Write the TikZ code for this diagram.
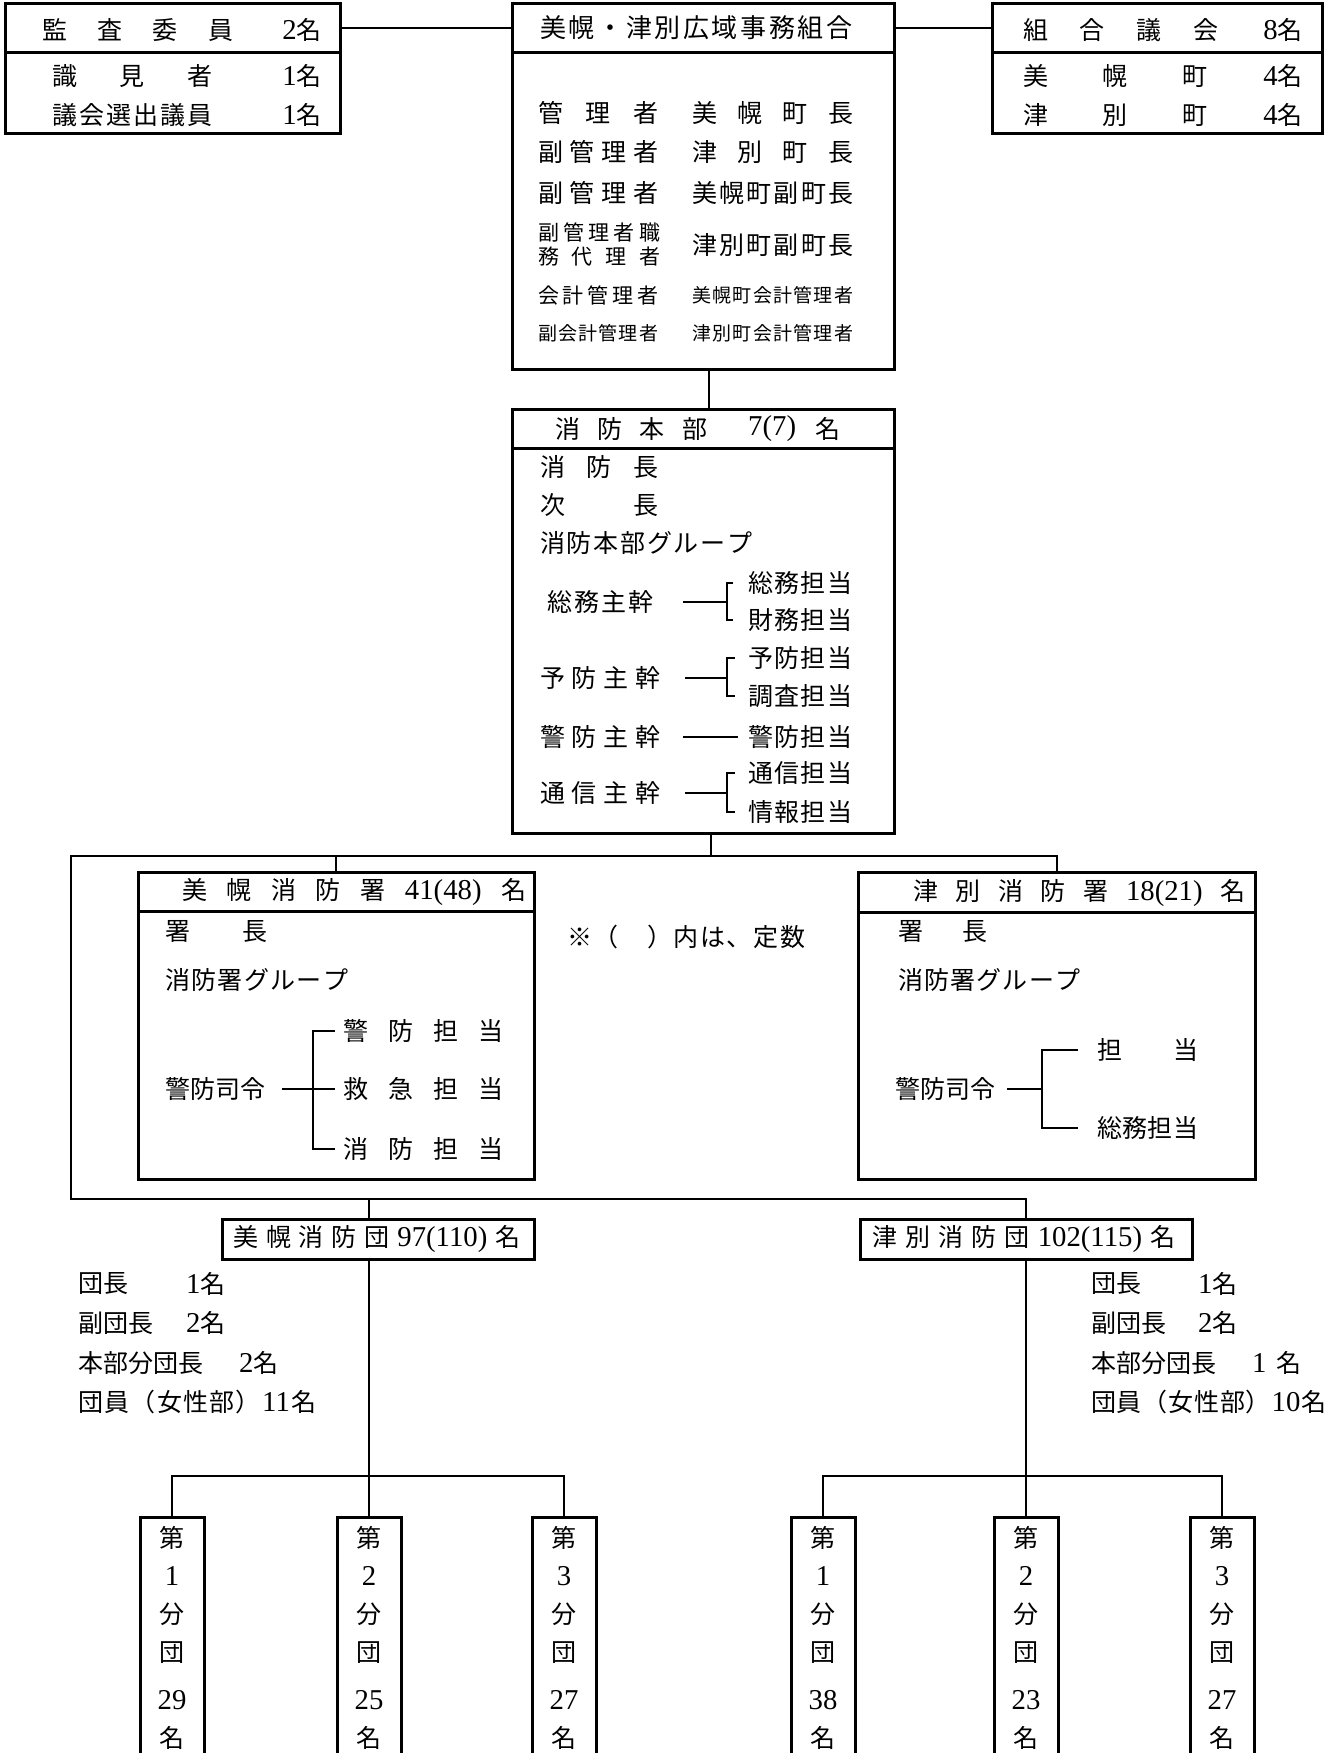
\documentclass[tikz,border=0pt]{standalone}
\usepackage{fontspec}
\setmainfont{Noto Sans CJK JP}
\newfontfamily\sr[Scale=1.15]{Liberation Serif}
\usetikzlibrary{fit}
\newcommand\fs[1]{\fontsize{#1}{#1}\selectfont}
\newcommand\sprd[2]{\hbox to #1pt{\sprdA#2\relax}}
\def\sprdA#1{#1\sprdB}
\def\sprdrelax{\relax}
\def\sprdB#1{\def\sprdtmp{#1}\ifx\sprdtmp\sprdrelax\else\hfil#1\expandafter\sprdB\fi}
\begin{document}
\begin{tikzpicture}[x=1pt,y=-1pt,
  bx/.style={draw,line width=3pt,inner sep=0pt},
  ln/.style={line width=2pt},
  tx/.style={inner sep=0pt,font=\fs{25},anchor=west},
  colt/.style={inner sep=0pt,font=\fontsize{25}{38}\selectfont,align=center,anchor=north}]
\useasboundingbox (0,0) rectangle (1338,1753);
\fill[white] (0,0) rectangle (1338,1753);
\clip (0,0) rectangle (1338,1753);

% ---------- boxes ----------
\node[bx,fit={(5,4) (340,53)}] (lhead) {};
\node[bx,fit={(5,53) (340,133)}] (lbody) {};
\node[bx,fit={(512,4) (894,53)}] (chead) {};
\node[bx,fit={(512,53) (894,369)}] (cbody) {};
\node[bx,fit={(992,4) (1322,53)}] (rhead) {};
\node[bx,fit={(992,53) (1322,133)}] (rbody) {};
\node[bx,fit={(512,409) (894,448)}] (hqhead) {};
\node[bx,fit={(512,448) (894,833)}] (hqbody) {};
\node[bx,fit={(138,872) (534,911)}] (bhead) {};
\node[bx,fit={(138,911) (534,1179)}] (bbody) {};
\node[bx,fit={(858,872) (1255,912)}] (thead) {};
\node[bx,fit={(858,912) (1255,1179)}] (tbody) {};
\node[bx,fit={(222,1219) (534,1259)}] (bcorps) {};
\node[bx,fit={(860,1219) (1192,1259)}] (tcorps) {};
\node[bx,fit={(140,1517) (204,1775)}] (b1) {};
\node[bx,fit={(337,1517) (401,1775)}] (b2) {};
\node[bx,fit={(532,1517) (596,1775)}] (b3) {};
\node[bx,fit={(791,1517) (855,1775)}] (t1) {};
\node[bx,fit={(994,1517) (1058,1775)}] (t2) {};
\node[bx,fit={(1190,1517) (1254,1775)}] (t3) {};

% ---------- left box ----------
\node[tx] (l1) at (42,30) {\sprd{191}{監査委員}};
\node[tx,anchor=east] (l1n) at (322,30) {{\sr 2}名};
\node[tx] (l2) at (52,76) {\sprd{160}{識見者}};
\node[tx,anchor=east] (l2n) at (322,76) {{\sr 1}名};
\node[tx] (l3) at (52,115) {\sprd{160}{議会選出議員}};
\node[tx,anchor=east] (l3n) at (322,115) {{\sr 1}名};

% ---------- center box ----------
\node[tx,font=\fs{26}] (ctitle) at (540,28) {\sprd{312}{美幌・津別広域事務組合}};
\node[tx] (c1a) at (538,113) {\sprd{120}{管理者}};
\node[tx] (c1b) at (692,113) {\sprd{161}{美幌町長}};
\node[tx] (c2a) at (538,152) {\sprd{120}{副管理者}};
\node[tx] (c2b) at (692,152) {\sprd{161}{津別町長}};
\node[tx] (c3a) at (538,193) {\sprd{120}{副管理者}};
\node[tx] (c3b) at (692,193) {\sprd{161}{美幌町副町長}};
\node[tx,font=\fs{21}] (c4a) at (538,232) {\sprd{122}{副管理者職}};
\node[tx,font=\fs{21}] (c4c) at (538,257) {\sprd{122}{務代理者}};
\node[tx] (c4b) at (692,245) {\sprd{161}{津別町副町長}};
\node[tx,font=\fs{21}] (c5a) at (538,295) {\sprd{120}{会計管理者}};
\node[tx,font=\fs{19}] (c5b) at (692,295) {\sprd{161}{美幌町会計管理者}};
\node[tx,font=\fs{19}] (c6a) at (538,333) {\sprd{120}{副会計管理者}};
\node[tx,font=\fs{19}] (c6b) at (692,333) {\sprd{161}{津別町会計管理者}};

% ---------- right box ----------
\node[tx] (r1) at (1023,30) {\sprd{195}{組合議会}};
\node[tx,anchor=east] (r1n) at (1303,30) {{\sr 8}名};
\node[tx] (r2) at (1023,76) {\sprd{184}{美幌町}};
\node[tx,anchor=east] (r2n) at (1303,76) {{\sr 4}名};
\node[tx] (r3) at (1023,115) {\sprd{184}{津別町}};
\node[tx,anchor=east] (r3n) at (1303,115) {{\sr 4}名};

% ---------- HQ ----------
\node[tx] (h0a) at (555,429) {\sprd{152}{消防本部}};
\node[tx] (h0b) at (748,429) {\sr 7(7)};
\node[tx] (h0c) at (815,429) {名};
\node[tx] (h1) at (540,467) {\sprd{118}{消防長}};
\node[tx] (h2) at (540,505) {\sprd{118}{次長}};
\node[tx] (h3) at (540,543) {\sprd{212}{消防本部グループ}};
\node[tx] (k1) at (547,602) {\sprd{106}{総務主幹}};
\node[tx] (k1a) at (748,583) {\sprd{104}{総務担当}};
\node[tx] (k1b) at (748,620) {\sprd{104}{財務担当}};
\node[tx] (k2) at (540,678) {\sprd{120}{予防主幹}};
\node[tx] (k2a) at (748,658) {\sprd{104}{予防担当}};
\node[tx] (k2b) at (748,696) {\sprd{104}{調査担当}};
\node[tx] (k3) at (540,737) {\sprd{120}{警防主幹}};
\node[tx] (k3a) at (748,737) {\sprd{104}{警防担当}};
\node[tx] (k4) at (540,793) {\sprd{120}{通信主幹}};
\node[tx] (k4a) at (748,773) {\sprd{104}{通信担当}};
\node[tx] (k4b) at (748,812) {\sprd{104}{情報担当}};

\draw[ln] ([xshift=30pt]k1.east) -- ([xshift=-21pt]k1a.west |- k1.east);
\draw[ln] ([xshift=-15pt]k1a.west) -- ([xshift=-21pt]k1a.west) -- ([xshift=-21pt]k1b.west) -- ([xshift=-15pt]k1b.west);
\draw[ln] ([xshift=25pt]k2.east) -- ([xshift=-21pt]k2a.west |- k2.east);
\draw[ln] ([xshift=-13pt]k2a.west) -- ([xshift=-21pt]k2a.west) -- ([xshift=-21pt]k2b.west) -- ([xshift=-13pt]k2b.west);
\draw[ln] ([xshift=23pt]k3.east) -- ([xshift=-10pt]k3a.west);
\draw[ln] ([xshift=25pt]k4.east) -- ([xshift=-21pt]k4a.west |- k4.east);
\draw[ln] ([xshift=-13pt]k4a.west) -- ([xshift=-21pt]k4a.west) -- ([xshift=-21pt]k4b.west) -- ([xshift=-13pt]k4b.west);

% ---------- Bihoro station ----------
\node[tx] (bs0) at (182,892) {\sprd{344}{美幌消防署{{\sr 41(48)}}名}};
\node[tx] (bs1) at (165,932) {\sprd{102}{署長}};
\node[tx] (bs2) at (165,980) {\sprd{183}{消防署グループ}};
\node[tx] (bk) at (165,1089) {\sprd{100}{警防司令}};
\node[tx] (ba) at (343,1031) {\sprd{160}{警防担当}};
\node[tx] (bb) at (343,1089) {\sprd{160}{救急担当}};
\node[tx] (bc) at (343,1149) {\sprd{160}{消防担当}};
\draw[ln] ([xshift=17pt]bk.east) -- ([xshift=-8pt]bb.west);
\draw[ln] ([xshift=-8pt]ba.west) -- ([xshift=-30pt]ba.west) -- ([xshift=-30pt]bc.west) -- ([xshift=-8pt]bc.west);

% ---------- Tsubetsu station ----------
\node[tx] (ts0) at (913,893) {\sprd{332}{津別消防署{{\sr 18(21)}}名}};
\node[tx] (ts1) at (898,932) {\sprd{89}{署長}};
\node[tx] (ts2) at (898,980) {\sprd{182}{消防署グループ}};
\node[tx] (tk) at (895,1089) {\sprd{97}{警防司令}};
\node[tx] (ta) at (1097,1050) {\sprd{101}{担当}};
\node[tx] (tb) at (1097,1128) {\sprd{101}{総務担当}};
\draw[ln] ([xshift=15pt]tk.east) -- ([xshift=-55pt]ta.west |- tk.east);
\draw[ln] ([xshift=-19pt]ta.west) -- ([xshift=-55pt]ta.west) -- ([xshift=-55pt]tb.west) -- ([xshift=-19pt]tb.west);

% ---------- note ----------
\node[tx] (note) at (567,937) {\sprd{238}{※（　）内は、定数}};

% ---------- corps ----------
\node[tx] (bct) at (233,1239) {\sprd{287}{美幌消防団{{\sr 97(110)}}名}};
\node[tx] (tct) at (872,1239) {\sprd{303}{津別消防団{{\sr 102(115)}}名}};

\node[tx] (lm1) at (78,1284) {団長};
\node[tx] (lm1n) at (186,1284) {{\sr 1}名};
\node[tx] (lm2) at (78,1323) {副団長};
\node[tx] (lm2n) at (186,1323) {{\sr 2}名};
\node[tx] (lm3) at (78,1363) {本部分団長};
\node[tx] (lm3n) at (239,1363) {{\sr 2}名};
\node[tx] (lm4) at (78,1402) {\sprd{238}{団員（女性部）{{\sr 11}}名}};

\node[tx] (rm1) at (1091,1284) {団長};
\node[tx] (rm1n) at (1198,1284) {{\sr 1}名};
\node[tx] (rm2) at (1091,1323) {副団長};
\node[tx] (rm2n) at (1198,1323) {{\sr 2}名};
\node[tx] (rm3) at (1091,1363) {本部分団長};
\node[tx] (rm3n) at (1252,1363) {{\sr 1}\hspace{10pt}名};
\node[tx] (rm4) at (1091,1402) {\sprd{235}{団員（女性部）{{\sr 10}}名}};

% ---------- bunsho boxes ----------
\node[colt] (b1t) at (b1.north |- 0,1526) {第\\{\sr 1}\\分\\団\\[10pt]{\sr 29}\\名};
\node[colt] (b2t) at (b2.north |- 0,1526) {第\\{\sr 2}\\分\\団\\[10pt]{\sr 25}\\名};
\node[colt] (b3t) at (b3.north |- 0,1526) {第\\{\sr 3}\\分\\団\\[10pt]{\sr 27}\\名};
\node[colt] (t1t) at (t1.north |- 0,1526) {第\\{\sr 1}\\分\\団\\[10pt]{\sr 38}\\名};
\node[colt] (t2t) at (t2.north |- 0,1526) {第\\{\sr 2}\\分\\団\\[10pt]{\sr 23}\\名};
\node[colt] (t3t) at (t3.north |- 0,1526) {第\\{\sr 3}\\分\\団\\[10pt]{\sr 27}\\名};

% ---------- connectors ----------
\coordinate (tl) at (71,856);
\coordinate (bl) at (71,1199);
\coordinate (bj) at (369,1476);
\coordinate (tj) at (1026,1476);
\draw[ln] (lhead.east |- ctitle) -- (chead.west |- ctitle);
\draw[ln] (chead.east |- ctitle) -- (rhead.west |- ctitle);
\draw[ln] ([xshift=6pt]cbody.south) -- ([xshift=6pt]hqhead.north);
\draw[ln] ([xshift=8pt]hqbody.south) -- ([xshift=8pt]hqbody.south |- tl);
\draw[ln] (thead.north) -- (thead.north |- tl) -- (tl) -- (bl) -- (tcorps.north |- bl) -- (tcorps.north);
\draw[ln] (bhead.north) -- (bhead.north |- tl);
\draw[ln] ([xshift=-9pt]bcorps.north) -- ([xshift=-9pt]bcorps.north |- bl);
\draw[ln] ([xshift=-9pt]bcorps.south) -- (b2.north);
\draw[ln] (b1.north) -- (b1.north |- bj) -- (b3.north |- bj) -- (b3.north);
\draw[ln] (tcorps.south) -- (t2.north);
\draw[ln] (t1.north) -- (t1.north |- tj) -- (t3.north |- tj) -- (t3.north);
\end{tikzpicture}
\end{document}
